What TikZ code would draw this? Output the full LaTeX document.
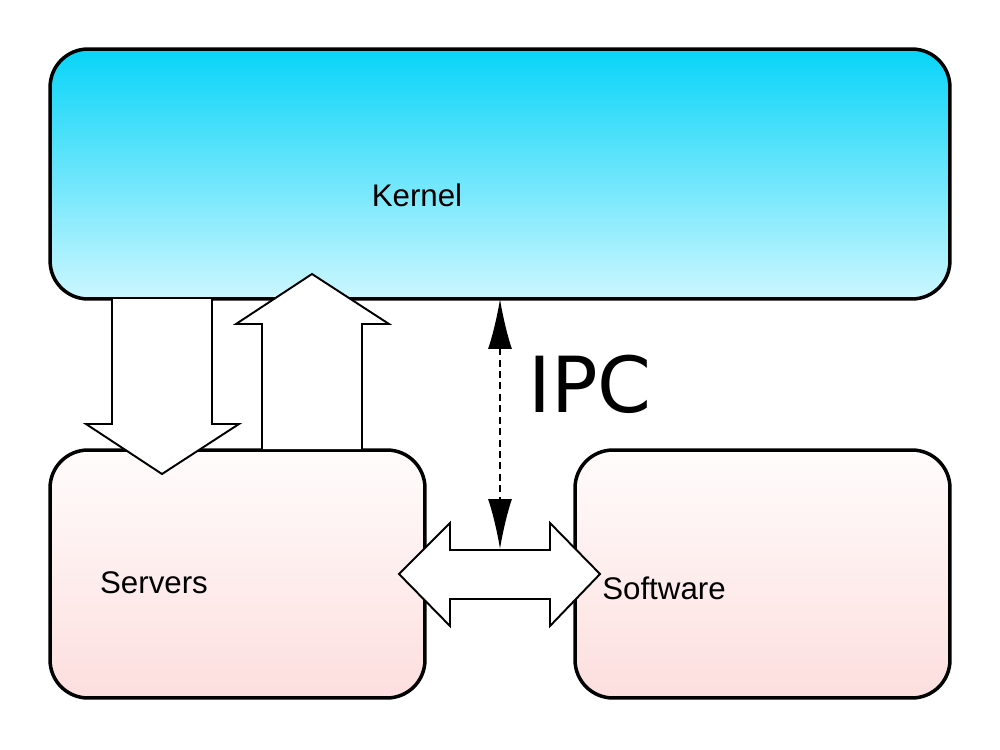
\documentclass[tikz,border=0pt]{standalone}
\usepackage{fontspec}
\setmainfont{Liberation Sans}
\newfontfamily\ipcfont{DejaVu Sans}
\usetikzlibrary{arrows.meta}
\definecolor{kerneltop}{RGB}{8,212,248}
\definecolor{kernelbot}{RGB}{204,247,255}
\definecolor{pinktop}{RGB}{255,252,252}
\definecolor{pinkbot}{RGB}{253,222,222}
\begin{document}
\begin{tikzpicture}[x=0.02cm,y=-0.02cm,
  box/.style={draw=black, line width=2pt, rounded corners=0.76cm, inner sep=0},
  blockfill/.style={fill=white},
  blockline/.style={draw=black, line width=1.1pt, line join=miter},
  lbl/.style={font=\fontsize{17.8}{20}\selectfont, inner sep=0}]
\useasboundingbox (0,0) rectangle (1000,750);
% boxes
\node[box, top color=kerneltop, bottom color=kernelbot, minimum width=18cm, minimum height=5cm] (kernel) at (500,174) {};
\node[box, top color=pinktop, bottom color=pinkbot, minimum width=7.5cm, minimum height=4.96cm] (servers) at (237.5,574) {};
\node[box, top color=pinktop, bottom color=pinkbot, minimum width=7.5cm, minimum height=4.96cm] (software) at (762.5,574) {};
% labels
\node[lbl] (kernellbl) at (417,195) {Kernel};
\node[lbl] (serverslbl) at (154,583) {Servers};
\node[lbl] (softwarelbl) at (664,588) {Software};
\node[font=\ipcfont\fontsize{44}{50}\selectfont, inner sep=0] (ipclbl) at (590,384) {IPC};
% down block arrow
\fill[blockfill] (112,299) -- (112,424) -- (86,424) -- (162,474) -- (239,424) -- (212,424) -- (212,299) -- cycle;
\draw[blockline] (112,299) -- (112,424) -- (86,424) -- (162,474) -- (239,424) -- (212,424) -- (212,299);
% up block arrow
\fill[blockfill] (262,449) -- (262,324) -- (236,324) -- (312,274) -- (389,324) -- (362,324) -- (362,449) -- cycle;
\draw[blockline] (262,449) -- (262,324) -- (236,324) -- (312,274) -- (389,324) -- (362,324) -- (362,449);
% double block arrow
\draw[blockline, blockfill] (399,574) -- (450,523) -- (450,550) -- (550,550) -- (550,523) -- (600,574) -- (550,626) -- (550,599) -- (450,599) -- (450,626) -- cycle;
% IPC dashed arrow
\coordinate (ipctop) at (500,299);
\coordinate (ipcbot) at (500,549);
\draw[line width=0.9pt, dash pattern=on 4pt off 2.5pt, {Latex[length=1cm,width=0.48cm]}-{Latex[length=1cm,width=0.48cm]}] (ipctop) -- (ipcbot);
\end{tikzpicture}
\end{document}
